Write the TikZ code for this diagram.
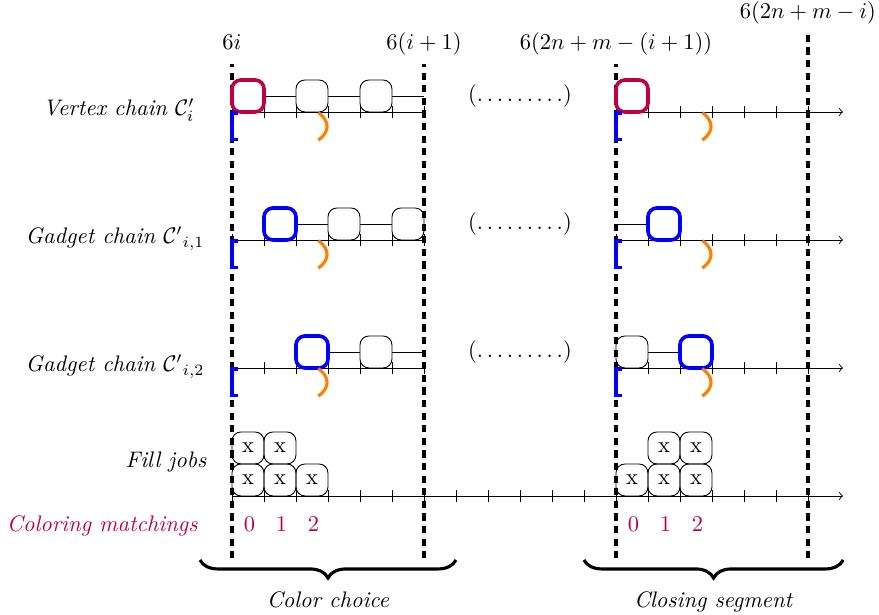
\documentclass[tikz,border=0pt]{standalone}
\usepackage{amsmath,amssymb,amsfonts}
\usetikzlibrary{arrows,decorations.pathreplacing}

\begin{document}
\begin{tikzpicture}[x=.5cm,y=.5cm,
	job/.style={draw,rounded corners=4pt,minimum size=.5cm,inner sep=0pt},
	redjob/.style={job,draw=purple,fill=white,ultra thick},
	bluejob/.style={job,draw=blue,fill=white,ultra thick},
	cut/.style={line width=1.5pt,dash pattern=on 3.2pt off 2.4pt},
	openb/.style={blue,line width=1.4pt},
	closeb/.style={orange,line width=1.4pt},
	rowlabel/.style={anchor=base east,font=\itshape}]
	\useasboundingbox (-7.25,-3.69) rectangle (20.22,15.5);
	
	% row labels
	\node[rowlabel] (lv) at (-.92,11.875) {Vertex chain $\mathcal{C}_i'$};
	\node[rowlabel] (lg1) at (-.61,7.875) {Gadget chain ${\mathcal{C}'}_{i,1}$};
	\node[rowlabel] (lg2) at (-.61,3.875) {Gadget chain ${\mathcal{C}'}_{i,2}$};
	\node[rowlabel] (lf) at (-.55,.875) {Fill jobs};
	\node[rowlabel,purple] (lc) at (-.83,-1.125) {Coloring matchings};
	
	% time lines of the three chains
	\foreach \y in {12,8,4} {
		\draw (0,\y) -- (6,\y);
		\draw [->] (12,\y) -- (19.1,\y);
		\foreach \x in {0,...,6} {
			\draw (\x,\y+.18) -- (\x,\y-.18);
			\draw (\x+12,\y+.18) -- (\x+12,\y-.18);
		}
		\node at (9,\y+.5) {$(\ldots\ldots\ldots)$};
	}
	% time line of the fill jobs
	\draw [->] (0,0) -- (19.1,0);
	\foreach \x in {0,...,18} \draw (\x,.18) -- (\x,-.18);
	
	% segment borders
	\draw [cut] (0,-1.95) -- (0,13.5) node[above,text depth=.25em] {$6i$};
	\draw [cut] (6,-1.95) -- (6,13.5) node[above,text depth=.25em] {$6(i+1)$};
	\draw [cut] (12,-1.95) -- (12,13.5) node[above,text depth=.25em] {$6(2n+m-(i+1))$};
	\draw [cut] (18,-1.95) -- (18,14.45) node[above,text depth=.25em] {$6(2n+m-i)$};
	
	% vertex chain
	\node[redjob] (v1) at (.5,12.5) {};
	\node[job] (v2) at (2.5,12.5) {};
	\node[job] (v3) at (4.5,12.5) {};
	\coordinate (v4) at (6,12.5);
	\draw (v1) -- (v2) -- (v3) -- (v4);
	\node[redjob] (w1) at (12.5,12.5) {};
	
	% first gadget chain
	\node[bluejob] (a1) at (1.5,8.5) {};
	\node[job] (a2) at (3.5,8.5) {};
	\node[job] (a3) at (5.5,8.5) {};
	\draw (a1) -- (a2) -- (a3);
	\coordinate (b0) at (12,8.5);
	\node[bluejob] (b1) at (13.5,8.5) {};
	\draw (b0) -- (b1);
	
	% second gadget chain
	\node[bluejob] (c1) at (2.5,4.5) {};
	\node[job] (c2) at (4.5,4.5) {};
	\coordinate (c3) at (6,4.5);
	\draw (c1) -- (c2) -- (c3);
	\node[job] (d1) at (12.5,4.5) {};
	\node[bluejob] (d2) at (14.5,4.5) {};
	\draw (d1) -- (d2);
	
	% fill jobs
	\node[job] (f1) at (.5,.5) {x};
	\node[job] (f2) at (1.5,.5) {x};
	\node[job] (f3) at (2.5,.5) {x};
	\node[job] (f4) at (.5,1.5) {x};
	\node[job] (f5) at (1.5,1.5) {x};
	\node[job] (g1) at (12.5,.5) {x};
	\node[job] (g2) at (13.5,.5) {x};
	\node[job] (g3) at (14.5,.5) {x};
	\node[job] (g4) at (13.5,1.5) {x};
	\node[job] (g5) at (14.5,1.5) {x};
	
	% windows [ ... )
	\foreach \y in {12,8,4} \foreach \x in {0,12} {
		\draw [openb] (\x+.2,\y-.03) -- (\x,\y-.03) -- (\x,\y-.85) -- (\x+.2,\y-.85);
		\draw [closeb] (\x+2.7,\y-.02) .. controls (\x+3.06,\y-.28) and (\x+3.06,\y-.62) .. (\x+2.7,\y-.88);
	}
	
	% colors
	\foreach \x/\c in {0/0,1/1,2/2} {
		\node[purple,anchor=base] (k\x) at (\x+.55,-1.125) {$\c$};
		\node[purple,anchor=base] (r\x) at (\x+12.55,-1.125) {$\c$};
	}
	
	\draw [decorate,decoration={brace,mirror,amplitude=8pt},line width=1.4pt] (-1,-2) -- (7,-2) node[midway,below=10pt] {\textit{Color choice}};
	\draw [decorate,decoration={brace,mirror,amplitude=8pt},line width=1.4pt] (11,-2) -- (19.1,-2) node[midway,below=10pt] {\textit{Closing segment}};
\end{tikzpicture}
\end{document}
